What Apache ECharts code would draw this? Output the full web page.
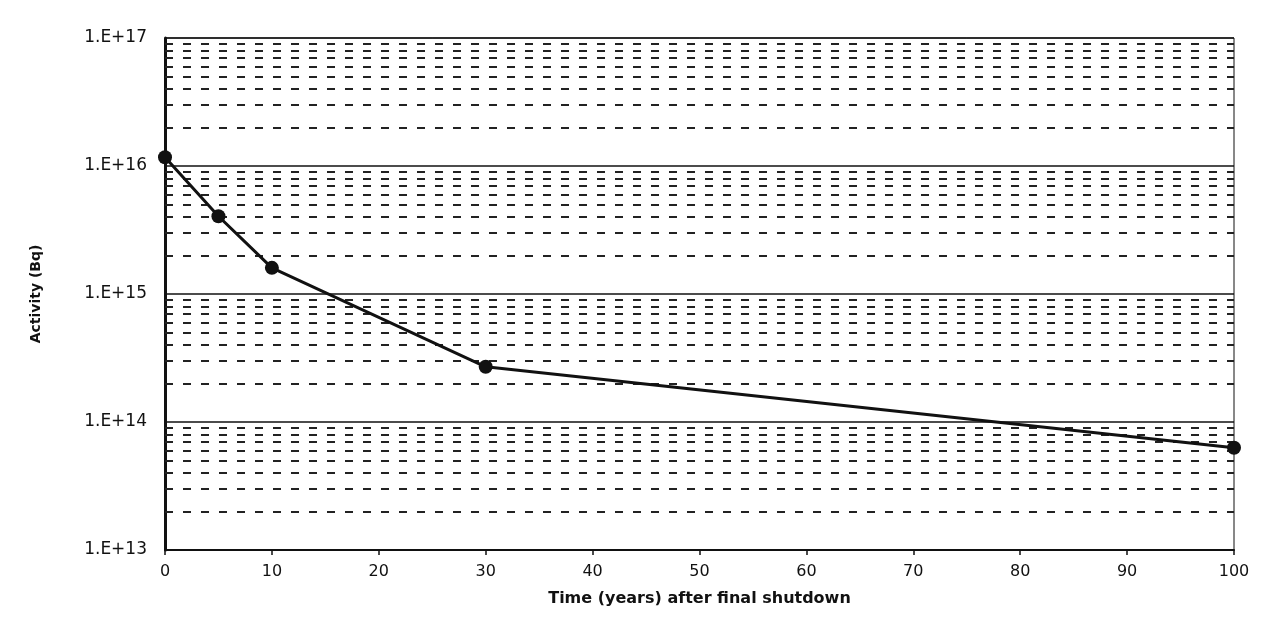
<!DOCTYPE html>
<html>
<head>
<meta charset="utf-8">
<script src="https://cdn.jsdelivr.net/npm/echarts@6/dist/echarts.min.js"></script>
<style>
html,body{margin:0;padding:0;background:#fff;}
#chart{width:1272px;height:617px;}
</style>
</head>
<body>
<div id="chart"></div>
<script>
// Data
const years = [0, 5, 10, 30, 100];
const activityBq = [1.17e16, 4.05e15, 1.6e15, 2.7e14, 6.3e13];
const xTicks = [0, 10, 20, 30, 40, 50, 60, 70, 80, 90, 100];
const decades = [13, 14, 15, 16];
const minorMultipliers = [2, 3, 4, 5, 6, 7, 8, 9];

const minorLines = [];
decades.forEach(d => minorMultipliers.forEach(m => minorLines.push({ yAxis: m * Math.pow(10, d) })));

const chart = echarts.init(document.getElementById('chart'), null, { renderer: 'canvas' });
const font = '"DejaVu Sans", "Liberation Sans", Arial, sans-serif';
chart.setOption({
  animation: false,
  backgroundColor: '#ffffff',
  grid: {
    left: 165, right: 38, top: 38, bottom: 67,
    show: true, borderColor: '#111', borderWidth: 1
  },
  xAxis: {
    type: 'value', min: 0, max: 100, interval: 10,
    name: 'Time (years) after final shutdown',
    nameLocation: 'middle', nameGap: 41,
    nameTextStyle: { fontFamily: font, fontSize: 16, fontWeight: 'bold', color: '#111' },
    axisLine: { show: true, onZero: false, lineStyle: { color: '#111', width: 2 } },
    axisTick: { show: true, length: 5, lineStyle: { color: '#111', width: 1.5 } },
    axisLabel: { fontFamily: font, fontSize: 16, color: '#111', margin: 14 },
    splitLine: { show: false }
  },
  yAxis: {
    type: 'log', logBase: 10, min: 1e13, max: 1e17,
    name: 'Activity (Bq)',
    nameLocation: 'middle', nameGap: 122, nameRotate: 90,
    nameTextStyle: { fontFamily: font, fontSize: 14, fontWeight: 'bold', color: '#111' },
    axisLine: { show: true, lineStyle: { color: '#111', width: 3 } },
    axisTick: { show: false },
    axisLabel: {
      fontFamily: font, fontSize: 17, color: '#111', margin: 18,
      padding: [0, 0, 6, 0],
      formatter: v => '1.E+' + Math.round(Math.log10(v))
    },
    splitLine: { show: true, lineStyle: { color: '#111', width: 1.5, type: 'solid' } }
  },
  series: [
    {
      type: 'line', data: [], z: 1, silent: true,
      markLine: {
        silent: true, symbol: ['none', 'none'],
        label: { show: false },
        lineStyle: { color: '#222', width: 2, type: [8, 10] },
        emphasis: { disabled: true },
        data: minorLines
      }
    },
    {
      type: 'line', z: 5,
      data: years.map((x, i) => [x, activityBq[i]]),
      symbol: 'circle', symbolSize: 14,
      itemStyle: { color: '#111' },
      lineStyle: { color: '#111', width: 3 },
      clip: false
    }
  ]
});
</script>
</body>
</html>
